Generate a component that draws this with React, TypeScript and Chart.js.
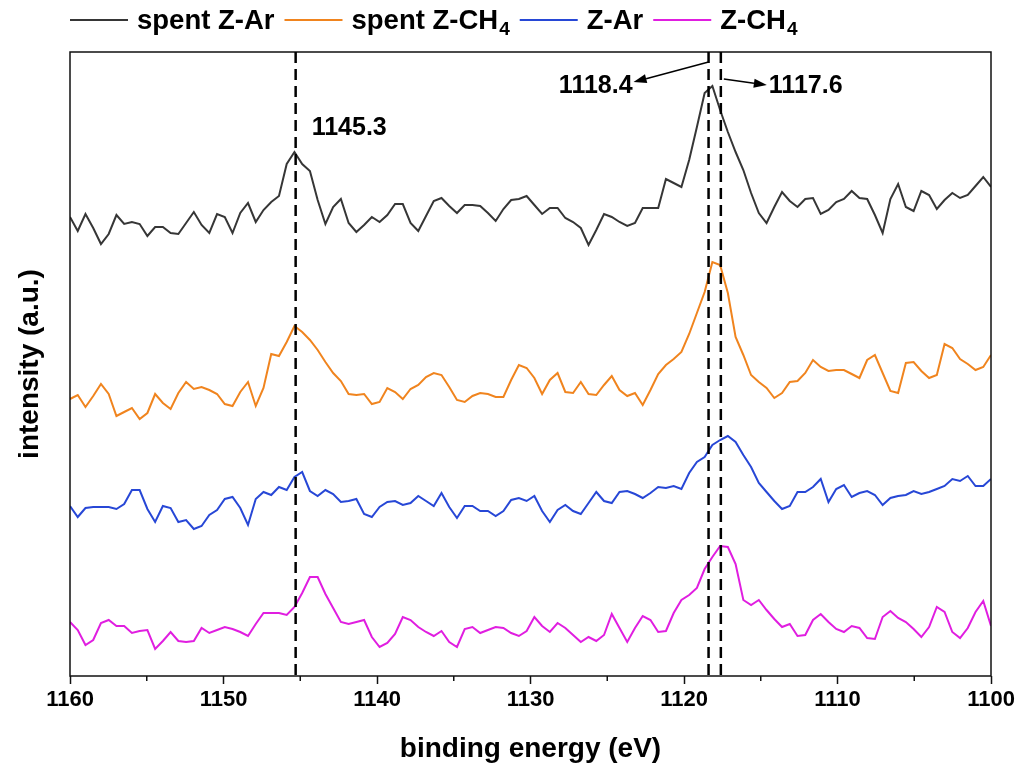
import React, { useEffect, useRef } from 'react';
import { Chart, registerables } from 'chart.js';

Chart.register(...registerables);

const FONT_FAMILY = '"Liberation Sans", Arial, Helvetica, sans-serif';
const AXIS_COLOR = '#111111';

// Binding-energy sampling grid: 120 evenly spaced points from 1160 eV to 1100 eV
const ENERGY_HIGH = 1160;
const ENERGY_LOW = 1100;
const POINT_COUNT = 120;
const energies = Array.from(
  { length: POINT_COUNT },
  (_, i) => ENERGY_HIGH - ((ENERGY_HIGH - ENERGY_LOW) * i) / (POINT_COUNT - 1)
);

// Vertically offset XPS spectra (a.u.)
const spentZAr = [
  459, 445, 462, 448, 432, 442, 461, 452, 454, 452, 440, 449, 449, 443, 442, 453, 464, 451, 443, 462,
  459, 443, 463, 473, 454, 466, 474, 480, 512, 524, 512, 505, 476, 452, 469, 477, 453, 444, 451, 459,
  454, 461, 472, 472, 453, 445, 460, 475, 478, 470, 463, 471, 471, 470, 463, 455, 467, 476, 477, 480,
  471, 462, 468, 468, 458, 454, 448, 431, 446, 462, 459, 454, 450, 453, 468, 468, 468, 497, 493, 489,
  516, 549, 583, 590, 566, 544, 524, 506, 483, 463, 453, 469, 484, 475, 469, 477, 478, 462, 466, 474,
  477, 485, 478, 477, 461, 443, 477, 492, 469, 465, 485, 481, 467, 476, 483, 478, 481, 490, 499, 489,
];

const spentZCH4 = [
  277, 281, 269, 280, 292, 282, 260, 264, 268, 257, 263, 282, 273, 267, 283, 294, 287, 289, 286, 282,
  272, 270, 284, 294, 270, 288, 322, 320, 334, 350, 344, 336, 326, 314, 303, 295, 282, 281, 282, 272,
  274, 288, 284, 277, 287, 291, 299, 303, 301, 289, 276, 274, 280, 283, 282, 279, 279, 296, 311, 308,
  298, 282, 296, 303, 284, 283, 294, 282, 281, 291, 300, 286, 280, 283, 271, 286, 302, 311, 317, 324,
  342, 363, 384, 414, 411, 383, 339, 321, 301, 294, 288, 278, 283, 294, 295, 303, 316, 309, 305, 306,
  306, 302, 298, 316, 321, 303, 285, 283, 313, 314, 305, 298, 301, 332, 328, 317, 312, 306, 309, 321,
];

const zAr = [
  170, 159, 168, 169, 169, 169, 167, 172, 186, 186, 167, 154, 170, 168, 154, 156, 147, 150, 161, 166,
  177, 179, 168, 151, 177, 184, 181, 189, 186, 199, 204, 185, 180, 186, 182, 174, 175, 177, 162, 159,
  169, 174, 175, 171, 173, 180, 175, 170, 183, 169, 158, 170, 170, 165, 165, 160, 165, 176, 178, 175,
  180, 165, 154, 166, 171, 165, 162, 173, 184, 175, 173, 184, 185, 182, 178, 183, 189, 188, 190, 187,
  203, 214, 219, 231, 236, 240, 234, 221, 209, 193, 184, 175, 167, 170, 184, 184, 189, 197, 174, 187,
  191, 179, 183, 185, 181, 171, 178, 180, 181, 185, 182, 184, 187, 190, 197, 195, 200, 190, 190, 197,
];

const zCH4 = [
  54, 46, 31, 36, 53, 56, 50, 50, 43, 45, 46, 27, 35, 44, 35, 34, 35, 48, 43, 46,
  49, 47, 44, 40, 52, 63, 63, 63, 61, 69, 83, 99, 99, 82, 68, 54, 52, 54, 56, 39,
  29, 33, 42, 59, 56, 49, 44, 40, 45, 34, 29, 47, 49, 43, 46, 49, 48, 43, 40, 45,
  59, 50, 44, 53, 48, 41, 34, 39, 35, 41, 62, 48, 34, 48, 60, 56, 44, 45, 63, 76,
  81, 88, 107, 119, 130, 129, 112, 76, 71, 76, 66, 57, 49, 52, 40, 41, 56, 62, 54, 47,
  44, 50, 48, 38, 37, 59, 65, 58, 54, 47, 39, 49, 69, 64, 44, 38, 48, 64, 75, 50,
];

const seriesValues = [spentZAr, spentZCH4, zAr, zCH4];
const seriesNames = ['spent Z-Ar', 'spent Z-CH4', 'Z-Ar', 'Z-CH4'];
// legend text split into main part and subscript
const legendMain = ['spent Z-Ar', 'spent Z-CH', 'Z-Ar', 'Z-CH'];
const legendSub = ['', '4', '', '4'];
const seriesColors = ['#363636', '#f0841e', '#2747d6', '#e01ee0'];

// Peak positions (eV) marked with dashed lines
const peakPositions = [1145.3, 1118.4, 1117.6];
const peakLabels = ['1145.3', '1118.4', '1117.6'];

const X_TICK_STEP = 5;
const X_LABEL_STEP = 10;
const Y_MIN = 0;
const Y_MAX = 624;

function drawArrow(ctx: CanvasRenderingContext2D, x1: number, y1: number, x2: number, y2: number) {
  const head = 13;
  const half = 4.5;
  const ang = Math.atan2(y2 - y1, x2 - x1);
  const bx = x2 - head * Math.cos(ang);
  const by = y2 - head * Math.sin(ang);
  ctx.beginPath();
  ctx.moveTo(x1, y1);
  ctx.lineTo(bx, by);
  ctx.stroke();
  ctx.beginPath();
  ctx.moveTo(x2, y2);
  ctx.lineTo(bx + half * Math.sin(ang), by - half * Math.cos(ang));
  ctx.lineTo(bx - half * Math.sin(ang), by + half * Math.cos(ang));
  ctx.closePath();
  ctx.fill();
}

const decorPlugin = {
  id: 'xpsDecor',
  afterDatasetsDraw(chart: any) {
    const { ctx, chartArea, scales } = chart;
    const { left, right, top, bottom } = chartArea;
    const xs = scales.x;
    ctx.save();

    // minor ticks between labelled ones
    ctx.strokeStyle = AXIS_COLOR;
    ctx.lineWidth = 1.5;
    for (let v = ENERGY_LOW + X_TICK_STEP; v < ENERGY_HIGH; v += X_LABEL_STEP) {
      const px = xs.getPixelForValue(v);
      ctx.beginPath();
      ctx.moveTo(px, bottom);
      ctx.lineTo(px, bottom + 5);
      ctx.stroke();
    }

    // plot frame
    ctx.strokeRect(left, top, right - left, bottom - top);

    // dashed peak markers
    ctx.strokeStyle = '#000';
    ctx.lineWidth = 2.5;
    ctx.setLineDash([11, 6]);
    peakPositions.forEach((e) => {
      const px = xs.getPixelForValue(e);
      ctx.beginPath();
      ctx.moveTo(px, top);
      ctx.lineTo(px, bottom);
      ctx.stroke();
    });
    ctx.setLineDash([]);

    // peak labels
    ctx.fillStyle = '#000';
    ctx.font = `bold 25px ${FONT_FAMILY}`;
    ctx.textBaseline = 'middle';

    const p0 = xs.getPixelForValue(peakPositions[0]);
    ctx.textAlign = 'left';
    ctx.fillText(peakLabels[0], p0 + 16, top + 76);

    const p1 = xs.getPixelForValue(peakPositions[1]);
    ctx.textAlign = 'right';
    ctx.fillText(peakLabels[1], p1 - 76, top + 34);

    const p2 = xs.getPixelForValue(peakPositions[2]);
    ctx.textAlign = 'left';
    ctx.fillText(peakLabels[2], p2 + 48, top + 34);

    // arrows pointing to the labels
    ctx.strokeStyle = '#000';
    ctx.lineWidth = 1.5;
    drawArrow(ctx, p1, top + 10, p1 - 75, top + 30);
    drawArrow(ctx, p2 + 3, top + 27, p2 + 46, top + 33);

    ctx.restore();
  },
  afterDraw(chart: any) {
    const { ctx } = chart;
    ctx.save();
    const y = 20;
    let x = 70;
    const mainFont = `bold 27.5px ${FONT_FAMILY}`;
    const subFont = `bold 19px ${FONT_FAMILY}`;
    ctx.textBaseline = 'middle';
    ctx.textAlign = 'left';
    seriesColors.forEach((color, i) => {
      ctx.strokeStyle = color;
      ctx.lineWidth = 2;
      ctx.beginPath();
      ctx.moveTo(x, y);
      ctx.lineTo(x + 58, y);
      ctx.stroke();
      x += 58 + 9;
      ctx.fillStyle = '#000';
      ctx.font = mainFont;
      ctx.fillText(legendMain[i], x, y + 1);
      x += ctx.measureText(legendMain[i]).width;
      if (legendSub[i]) {
        ctx.font = subFont;
        ctx.fillText(legendSub[i], x + 1, y + 10);
        x += ctx.measureText(legendSub[i]).width + 1;
      }
      x += 10;
    });
    ctx.restore();
  },
};

export default function App() {
  const canvasRef = useRef<HTMLCanvasElement | null>(null);

  useEffect(() => {
    const canvas = canvasRef.current;
    if (!canvas) return;

    const datasets = seriesValues.map((values, s) => ({
      label: seriesNames[s],
      data: values.map((v, i) => ({ x: energies[i], y: v })),
      borderColor: seriesColors[s],
      backgroundColor: seriesColors[s],
      borderWidth: 2,
      pointRadius: 0,
      tension: 0,
      fill: false,
    }));

    const chart = new Chart(canvas, {
      type: 'line',
      data: { datasets },
      plugins: [decorPlugin],
      options: {
        animation: false,
        responsive: false,
        devicePixelRatio: 1,
        events: [],
        layout: { padding: { top: 52, right: 29, left: 0, bottom: 0 } },
        plugins: {
          legend: { display: false },
          tooltip: { enabled: false },
        },
        scales: {
          x: {
            type: 'linear',
            reverse: true,
            min: ENERGY_LOW,
            max: ENERGY_HIGH,
            afterFit: (scale: any) => {
              scale.height = 87;
            },
            border: { display: false },
            grid: {
              display: true,
              drawOnChartArea: false,
              drawTicks: true,
              tickLength: 8,
              tickWidth: 1.5,
              tickColor: (c: any) =>
                c.tick && c.tick.value % X_LABEL_STEP === 0 ? AXIS_COLOR : 'rgba(0,0,0,0)',
            },
            ticks: {
              stepSize: X_TICK_STEP,
              autoSkip: false,
              maxRotation: 0,
              padding: 3,
              color: '#000',
              font: { family: FONT_FAMILY, size: 22, weight: 'bold' },
              callback: (v: any) => (Number(v) % X_LABEL_STEP === 0 ? String(v) : ''),
            },
            title: {
              display: true,
              text: 'binding energy (eV)',
              color: '#000',
              font: { family: FONT_FAMILY, size: 28, weight: 'bold', lineHeight: 1 },
              padding: { top: 0, bottom: 0 },
            },
          },
          y: {
            type: 'linear',
            min: Y_MIN,
            max: Y_MAX,
            afterFit: (scale: any) => {
              scale.width = 70;
            },
            border: { display: false },
            grid: { display: false },
            ticks: { display: false },
            title: {
              display: true,
              text: 'intensity (a.u.)',
              color: '#000',
              font: { family: FONT_FAMILY, size: 28, weight: 'bold', lineHeight: 1 },
              padding: { top: 16, bottom: 0 },
            },
          },
        },
      },
    } as any);

    return () => chart.destroy();
  }, []);

  return (
    <div style={{ position: 'fixed', left: 0, top: 0, width: 1020, height: 763, background: '#fff' }}>
      <canvas ref={canvasRef} width={1020} height={763} />
    </div>
  );
}
